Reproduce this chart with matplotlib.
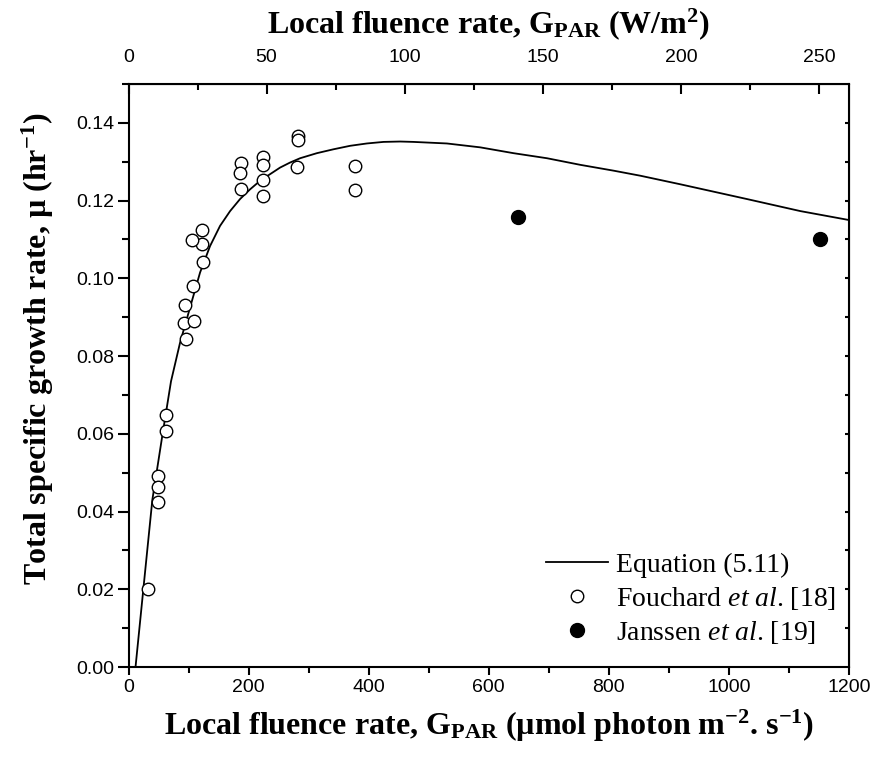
import matplotlib
matplotlib.use("Agg")
import matplotlib.pyplot as plt
from matplotlib.lines import Line2D
from matplotlib.ticker import MultipleLocator, NullLocator

plt.rcParams['mathtext.fontset'] = 'custom'
plt.rcParams['mathtext.rm'] = 'Liberation Serif'
plt.rcParams['mathtext.bf'] = 'Liberation Serif:bold'
plt.rcParams['mathtext.it'] = 'Liberation Serif:italic'

# Fouchard et al. [18] (open circles)
fouchard_x = [32, 48.7, 48.7, 49.7, 63, 63, 95.3, 92.5, 108.7, 94.2, 107, 124.7,
              122.5, 105.3, 122.5, 187.5, 186.3, 187.5, 224.7, 224.7, 224.7, 224.7,
              282, 282, 280.3, 378, 378]
fouchard_y = [0.0200, 0.0491, 0.0462, 0.0425, 0.0649, 0.0608, 0.0845, 0.0884, 0.0891,
              0.0931, 0.0980, 0.1043, 0.1088, 0.1098, 0.1125, 0.1296, 0.1271, 0.1230,
              0.1311, 0.1292, 0.1254, 0.1212, 0.1366, 0.1357, 0.1286, 0.1290, 0.1227]

# Janssen et al. [19] (filled circles)
janssen_x = [648.7, 1152.5]
janssen_y = [0.1159, 0.1102]

# Equation (5.11) curve
curve_x = [11.7, 24.7, 39.7, 57, 70.8, 85.8, 105.3, 119.2, 135.8, 152.5, 169.2,
           185.8, 202.5, 219.2, 235.8, 252.5, 269.2, 285.8, 313.7, 341.3, 369.2,
           397, 424.7, 452.5, 474.7, 530.3, 585.8, 641.3, 697, 752.5, 808, 852.5,
           919, 1030, 1119, 1200]
curve_y = [0.0, 0.0200, 0.0430, 0.0602, 0.0735, 0.0834, 0.0940, 0.1015, 0.1083,
           0.1135, 0.1173, 0.1204, 0.1229, 0.1251, 0.1268, 0.1285, 0.1298, 0.1309,
           0.1322, 0.1332, 0.1341, 0.1347, 0.1351, 0.1352, 0.1351, 0.1347, 0.1337,
           0.1322, 0.1309, 0.1292, 0.1277, 0.1264, 0.1242, 0.1204, 0.1173, 0.1150]

umol_per_W = 4.6
top_ticks = [0, 50, 100, 150, 200, 250]
bottom_ticks = [0, 200, 400, 600, 800, 1000, 1200]
y_ticks = [0.00, 0.02, 0.04, 0.06, 0.08, 0.10, 0.12, 0.14]

fig = plt.figure(figsize=(8.77, 7.61), dpi=100)
ax = fig.add_axes([128.5/877, 1-667/761, (849-128.5)/877, (667-84)/761])

ax.plot(curve_x, curve_y, color='black', lw=1.3, zorder=2)
ax.plot(fouchard_x, fouchard_y, 'o', mfc='white', mec='black', mew=1.0, ms=9, ls='none', zorder=3)
ax.plot(janssen_x, janssen_y, 'o', mfc='black', mec='black', ms=10, ls='none', zorder=3)

ax.set_xlim(0, 1200)
ax.set_ylim(0, 0.15)
ax.set_xticks(bottom_ticks)
ax.xaxis.set_minor_locator(MultipleLocator(100))
ax.set_yticks(y_ticks)
ax.set_yticklabels([f"{v:.2f}" for v in y_ticks])
ax.yaxis.set_minor_locator(MultipleLocator(0.01))

for s in ax.spines.values():
    s.set_linewidth(1.5)

TICK_SIZE = 14
ax.tick_params(axis='x', which='major', direction='out', length=6, width=1.5, pad=3, top=False)
ax.tick_params(axis='x', which='minor', direction='out', length=4, width=1.5, top=False)
ax.tick_params(axis='y', which='major', direction='out', length=8, width=1.5, pad=2, right=False)
ax.tick_params(axis='y', which='minor', direction='out', length=5, width=1.5, right=False)
for lab in ax.get_xticklabels() + ax.get_yticklabels():
    lab.set_fontfamily('Liberation Sans')
    lab.set_fontsize(TICK_SIZE)

# right axis: short inward ticks
axr = ax.secondary_yaxis('right')
axr.set_yticks([i*0.01 for i in range(1, 15)])
axr.set_yticklabels([])
axr.tick_params(axis='y', which='major', direction='in', length=3, width=1.5)
axr.yaxis.set_minor_locator(NullLocator())

# top axis in W/m2
axt = ax.secondary_xaxis('top', functions=(lambda x: x/umol_per_W, lambda x: x*umol_per_W))
axt.set_xticks(top_ticks)
axt.xaxis.set_minor_locator(MultipleLocator(25))
axt.tick_params(axis='x', which='major', direction='in', length=7, width=1.5, pad=13)
axt.tick_params(axis='x', which='minor', direction='in', length=4, width=1.5)
for lab in axt.get_xticklabels():
    lab.set_fontfamily('Liberation Sans')
    lab.set_fontsize(TICK_SIZE)

labfont = dict(family='Liberation Serif', weight='bold', size=23)
ax.set_xlabel(r'Local fluence rate, G$_{\mathbf{PAR}}$ (µmol photon m$^{\mathbf{-2}}$. s$^{\mathbf{-1}}$)',
              fontdict=labfont, labelpad=8)
ax.set_ylabel(r'Total specific growth rate, µ (hr$^{\mathbf{-1}}$)', fontdict=labfont)
ax.yaxis.set_label_coords(-0.10, 0.545)
axt.set_xlabel(r'Local fluence rate, G$_{\mathbf{PAR}}$ (W/m$^{\mathbf{2}}$)', fontdict=labfont, labelpad=11)

handles = [
    Line2D([], [], color='black', lw=1.3),
    Line2D([], [], marker='o', ls='none', mfc='white', mec='black', mew=1.0, ms=9),
    Line2D([], [], marker='o', ls='none', mfc='black', mec='black', ms=10),
]
labels = ['Equation (5.11)', r'Fouchard $\it{et\ al}$. [18]', r'Janssen $\it{et\ al}$. [19]']
leg = ax.legend(handles, labels, loc='lower right', frameon=False,
                prop=dict(family='Liberation Serif', size=20),
                handlelength=2.2, handletextpad=0.3, labelspacing=0.25,
                bbox_to_anchor=(847/877, 1-657/761), bbox_transform=fig.transFigure,
                borderaxespad=0)

fig.savefig('out.png', dpi=100)
